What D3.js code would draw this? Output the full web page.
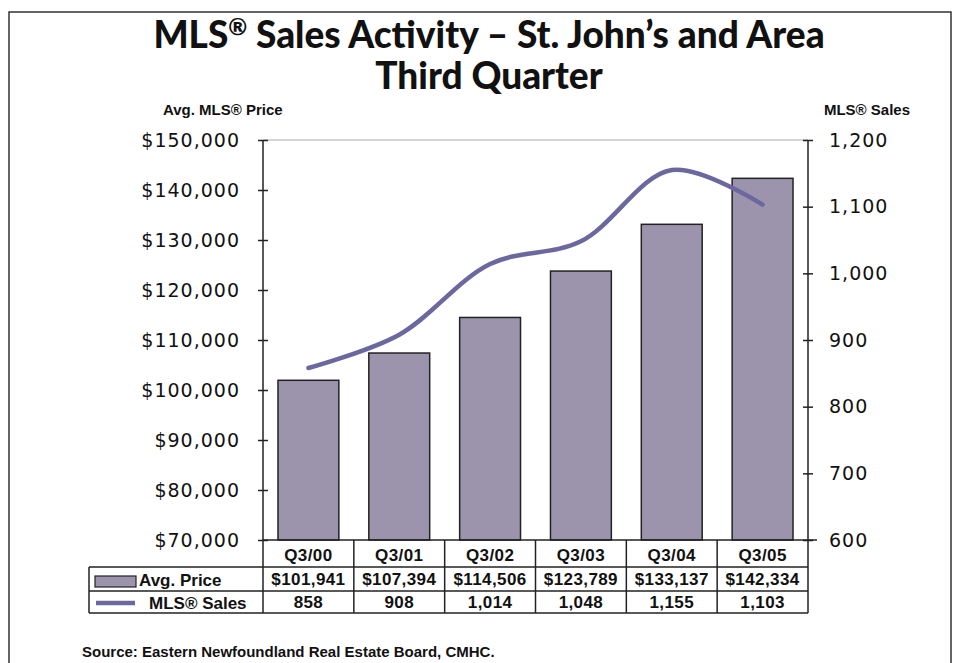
<!DOCTYPE html>
<html>
<head>
<meta charset="utf-8">
<script src="https://cdn.jsdelivr.net/npm/d3@7"></script>
<style>
  body { margin: 0; background: #fff; }
  #chart { width: 956px; height: 663px; }
  text { fill: #111; }
</style>
</head>
<body>
<div id="chart"></div>
<script>
// chart data
const quarters = ["Q3/00", "Q3/01", "Q3/02", "Q3/03", "Q3/04", "Q3/05"];
const avgPrice = [101941, 107394, 114506, 123789, 133137, 142334];
const mlsSales = [858, 908, 1014, 1048, 1155, 1103];
const priceTicks = [70000, 80000, 90000, 100000, 110000, 120000, 130000, 140000, 150000];
const salesTicks = [600, 700, 800, 900, 1000, 1100, 1200];

const width = 956, height = 663;
const plot = { left: 263, right: 808, top: 140, bottom: 540 };
const rows = { head: 567, price: 591, sales: 613, tableLeft: 89 };

const barFill = "#9c94ad";
const lineColor = "#6b68a0";
const ink = "#222";

const svg = d3.select("#chart")
    .append("svg")
    .attr("width", width)
    .attr("height", height);

// outer frame
svg.append("rect")
    .attr("x", 9).attr("y", 12)
    .attr("width", 942).attr("height", 700)
    .attr("fill", "none").attr("stroke", "#333").attr("stroke-width", 1.5);

// titles
const titleFont = "Lato, 'DejaVu Sans', sans-serif";
const title = svg.append("text")
    .attr("text-anchor", "middle")
    .style("font-family", titleFont)
    .style("font-weight", "900")
    .style("font-size", "37px");
title.append("tspan").attr("x", 489).attr("y", 48).text("MLS");
title.append("tspan").attr("dy", -13).style("font-size", "23px").text("®");
title.append("tspan").attr("dy", 13).text(" Sales Activity – St. John’s and Area");
svg.append("text")
    .attr("x", 489).attr("y", 89)
    .attr("text-anchor", "middle")
    .style("font-family", titleFont)
    .style("font-weight", "900")
    .style("font-size", "37px")
    .text("Third Quarter");

svg.append("text")
    .attr("x", 163).attr("y", 115)
    .style("font-family", "'Liberation Sans', Arial, sans-serif")
    .style("font-weight", "bold").style("font-size", "15px")
    .text("Avg. MLS® Price");
svg.append("text")
    .attr("x", 910).attr("y", 115)
    .attr("text-anchor", "end")
    .style("font-family", "'Liberation Sans', Arial, sans-serif")
    .style("font-weight", "bold").style("font-size", "15px")
    .text("MLS® Sales");

// scales
const xScale = d3.scaleBand()
    .domain(quarters)
    .range([plot.left, plot.right])
    .padding(0);
const bw = xScale.bandwidth();
const barW = bw * 0.67;

const yPrice = d3.scaleLinear()
    .domain([70000, 150000])
    .range([plot.bottom, plot.top]);
const ySales = d3.scaleLinear()
    .domain([600, 1200])
    .range([plot.bottom, plot.top]);

// top grid line
svg.append("line")
    .attr("x1", plot.left).attr("x2", plot.right)
    .attr("y1", yPrice(150000)).attr("y2", yPrice(150000))
    .attr("stroke", "#aaa").attr("stroke-width", 1);

// bars
svg.selectAll("rect.bar")
    .data(quarters)
    .enter()
    .append("rect")
    .attr("class", "bar")
    .attr("x", d => xScale(d) + (bw - barW) / 2)
    .attr("y", (d, i) => yPrice(avgPrice[i]))
    .attr("width", barW)
    .attr("height", (d, i) => plot.bottom - yPrice(avgPrice[i]))
    .attr("fill", barFill)
    .attr("stroke", ink)
    .attr("stroke-width", 1.5);

// smoothed sales line
const line = d3.line()
    .x((d, i) => xScale(quarters[i]) + bw / 2)
    .y(d => ySales(d))
    .curve(d3.curveCatmullRom.alpha(0.5));
svg.append("path")
    .datum(mlsSales)
    .attr("d", line)
    .attr("fill", "none")
    .attr("stroke", lineColor)
    .attr("stroke-width", 4.5)
    .attr("stroke-linecap", "round");

// axes
const tickFont = "'DejaVu Sans', sans-serif";
const leftAxis = svg.append("g")
    .attr("transform", `translate(${plot.left},0)`)
    .call(d3.axisLeft(yPrice).tickValues(priceTicks).tickFormat(d3.format("$,")).tickSize(5).tickPadding(18));
const rightAxis = svg.append("g")
    .attr("transform", `translate(${plot.right},0)`)
    .call(d3.axisRight(ySales).tickValues(salesTicks).tickFormat(d3.format(",")).tickSize(5).tickPadding(16));

[leftAxis, rightAxis].forEach(g => {
    g.select(".domain").remove();
    g.selectAll(".tick line").attr("x1", -5).attr("x2", 5).attr("stroke", ink).attr("stroke-width", 1.5);
    g.selectAll(".tick text")
        .style("font-family", tickFont)
        .style("font-size", "19px")
        .style("letter-spacing", "1px")
        .attr("fill", "#111");
});

// table grid
const grid = svg.append("g").attr("stroke", ink).attr("stroke-width", 1.5);
grid.append("line").attr("x1", plot.left).attr("x2", plot.right + 9).attr("y1", plot.bottom).attr("y2", plot.bottom);
grid.append("line").attr("x1", plot.left).attr("x2", plot.left).attr("y1", plot.top).attr("y2", rows.sales);
grid.append("line").attr("x1", plot.right).attr("x2", plot.right).attr("y1", plot.top).attr("y2", rows.sales);
[rows.head, rows.price, rows.sales].forEach(y => {
    grid.append("line").attr("x1", rows.tableLeft).attr("x2", plot.right).attr("y1", y).attr("y2", y);
});
grid.append("line").attr("x1", rows.tableLeft).attr("x2", rows.tableLeft).attr("y1", rows.head).attr("y2", rows.sales);
grid.selectAll("line.col")
    .data(quarters.slice(1))
    .enter()
    .append("line")
    .attr("class", "col")
    .attr("x1", d => xScale(d)).attr("x2", d => xScale(d))
    .attr("y1", plot.bottom).attr("y2", rows.sales);

// table text
const cellFont = "'Liberation Sans', Arial, sans-serif";
function cells(values, y, fmt) {
    svg.append("g").selectAll("text")
        .data(values)
        .enter()
        .append("text")
        .attr("x", (d, i) => xScale(quarters[i]) + bw / 2)
        .attr("y", y)
        .attr("text-anchor", "middle")
        .style("font-family", cellFont)
        .style("font-weight", "bold")
        .style("font-size", "17px")
        .style("letter-spacing", "0.4px")
        .text(fmt);
}
cells(quarters, 561, d => d);
cells(avgPrice, 585, d3.format("$,"));
cells(mlsSales, 608, d3.format(","));

// legend cells
svg.append("rect")
    .attr("x", 95).attr("y", 576).attr("width", 41).attr("height", 11)
    .attr("fill", barFill).attr("stroke", ink).attr("stroke-width", 1.2);
svg.append("text")
    .attr("x", 139).attr("y", 586)
    .style("font-family", cellFont).style("font-weight", "bold").style("font-size", "17px")
    .text("Avg. Price");
svg.append("line")
    .attr("x1", 96).attr("x2", 135).attr("y1", 603).attr("y2", 603)
    .attr("stroke", lineColor).attr("stroke-width", 4.5);
svg.append("text")
    .attr("x", 149).attr("y", 609)
    .style("font-family", cellFont).style("font-weight", "bold").style("font-size", "17px")
    .text("MLS® Sales");

// source
svg.append("text")
    .attr("x", 82).attr("y", 657)
    .style("font-family", cellFont).style("font-weight", "bold").style("font-size", "15px")
    .text("Source: Eastern Newfoundland Real Estate Board, CMHC.");
</script>
</body>
</html>
